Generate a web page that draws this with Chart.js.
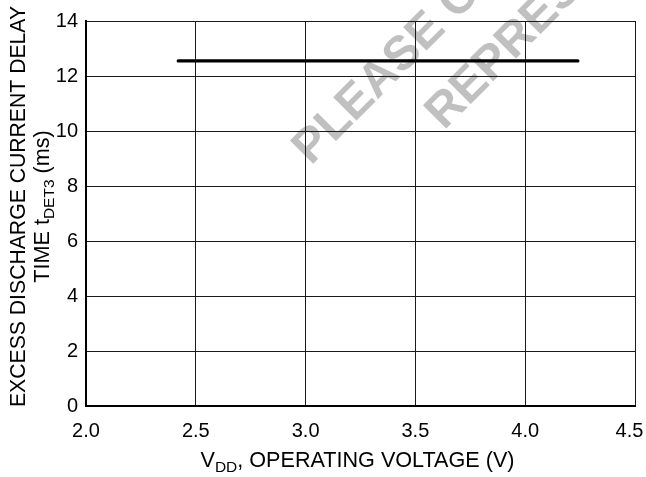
<!DOCTYPE html>
<html>
<head>
<meta charset="utf-8">
<script src="https://cdn.jsdelivr.net/npm/chart.js@4"></script>
<style>
  html, body { margin: 0; padding: 0; background: #ffffff; }
  #wrap { width: 646px; height: 477px; position: relative; }
</style>
</head>
<body>
<div id="wrap"><canvas id="delayChart" width="646" height="477"></canvas></div>
<script>
// Data
const vddVolts = [2.42, 4.24];
const delayMs = [12.55, 12.55];
const xTickStep = 0.5;
const yTickStep = 2;

const FONT = "'Liberation Sans', Arial, Helvetica, sans-serif";

// Grey "PLEASE CONTACT / REPRESENTATIVE" stamp behind the grid
const watermark = {
    id: 'watermark',
    beforeDraw(chart) {
        const ctx = chart.ctx;
        ctx.save();
        ctx.fillStyle = '#c0c0c0';
        ctx.font = 'bold 48px ' + FONT;
        ctx.textBaseline = 'alphabetic';
        ctx.translate(311, 166);
        ctx.rotate(-Math.PI / 4);
        ctx.fillText('PLEASE CONTACT', 0, 0);
        ctx.fillText('REPRESENTATIVE', 119, 69);
        ctx.restore();
    }
};

// Axis titles with subscripts
function drawRuns(ctx, runs, x, y) {
    runs.forEach(r => {
        ctx.font = r.size + 'px ' + FONT;
        ctx.fillText(r.text, x, y + (r.dy || 0));
        x += ctx.measureText(r.text).width;
    });
}
function runsWidth(ctx, runs) {
    return runs.reduce((w, r) => {
        ctx.font = r.size + 'px ' + FONT;
        return w + ctx.measureText(r.text).width;
    }, 0);
}

const axisTitles = {
    id: 'axisTitles',
    afterDraw(chart) {
        const ctx = chart.ctx;
        const area = chart.chartArea;
        ctx.save();
        ctx.fillStyle = '#000';
        ctx.textAlign = 'left';
        ctx.textBaseline = 'alphabetic';

        const xRuns = [
            { text: 'V', size: 21.6 },
            { text: 'DD', size: 15.5, dy: 5 },
            { text: ', OPERATING VOLTAGE (V)', size: 21.6 }
        ];
        const cx = (area.left + area.right) / 2 - 3;
        drawRuns(ctx, xRuns, cx - runsWidth(ctx, xRuns) / 2, 467);

        const line1 = [{ text: 'EXCESS DISCHARGE CURRENT DELAY', size: 21.2 }];
        const line2 = [
            { text: 'TIME t', size: 21.6 },
            { text: 'DET3', size: 15.5, dy: 5 },
            { text: ' (ms)', size: 21.6 }
        ];
        const cy = (area.top + area.bottom) / 2 - 7;
        ctx.translate(0, cy);
        ctx.rotate(-Math.PI / 2);
        drawRuns(ctx, line1, -runsWidth(ctx, line1) / 2, 25);
        drawRuns(ctx, line2, -runsWidth(ctx, line2) / 2, 49);
        ctx.restore();
    }
};

document.addEventListener('DOMContentLoaded', () => {
    Chart.defaults.font.family = FONT;
    Chart.defaults.color = '#000';

    const ctx = document.getElementById('delayChart').getContext('2d');
    new Chart(ctx, {
        type: 'line',
        data: {
            datasets: [{
                data: vddVolts.map((v, i) => ({ x: v, y: delayMs[i] })),
                borderColor: '#000',
                borderWidth: 3.2,
                borderCapStyle: 'round',
                pointRadius: 0,
                fill: false,
                tension: 0
            }]
        },
        options: {
            responsive: false,
            animation: false,
            events: [],
            layout: { padding: { top: 21, right: 11, left: 0, bottom: 0 } },
            plugins: {
                legend: { display: false },
                tooltip: { enabled: false }
            },
            scales: {
                x: {
                    type: 'linear',
                    min: 2.0,
                    max: 4.5,
                    grid: { color: '#1a1a1a', lineWidth: 1, drawTicks: false },
                    border: { display: true, color: '#000', width: 2 },
                    ticks: {
                        stepSize: xTickStep,
                        padding: 13,
                        maxRotation: 0,
                        font: { size: 20 },
                        color: '#000',
                        // last label sits just inside the right edge, like the original
                        callback: (v, i, ticks) => i === ticks.length - 1 ? v.toFixed(1) + '  ' : v.toFixed(1)
                    },
                    afterFit(scale) {
                        scale.height = 71;
                        scale.paddingLeft = 0;
                        scale.paddingRight = 0;
                    }
                },
                y: {
                    min: 0,
                    max: 14,
                    grid: { color: '#1a1a1a', lineWidth: 1, drawTicks: false },
                    border: { display: true, color: '#000', width: 2 },
                    ticks: {
                        stepSize: yTickStep,
                        padding: 8,
                        font: { size: 20 },
                        color: '#000'
                    },
                    afterFit(scale) {
                        scale.width = 86;
                        scale.paddingTop = 0;
                        scale.paddingBottom = 0;
                    }
                }
            }
        },
        plugins: [watermark, axisTitles]
    });
});
</script>
</body>
</html>
